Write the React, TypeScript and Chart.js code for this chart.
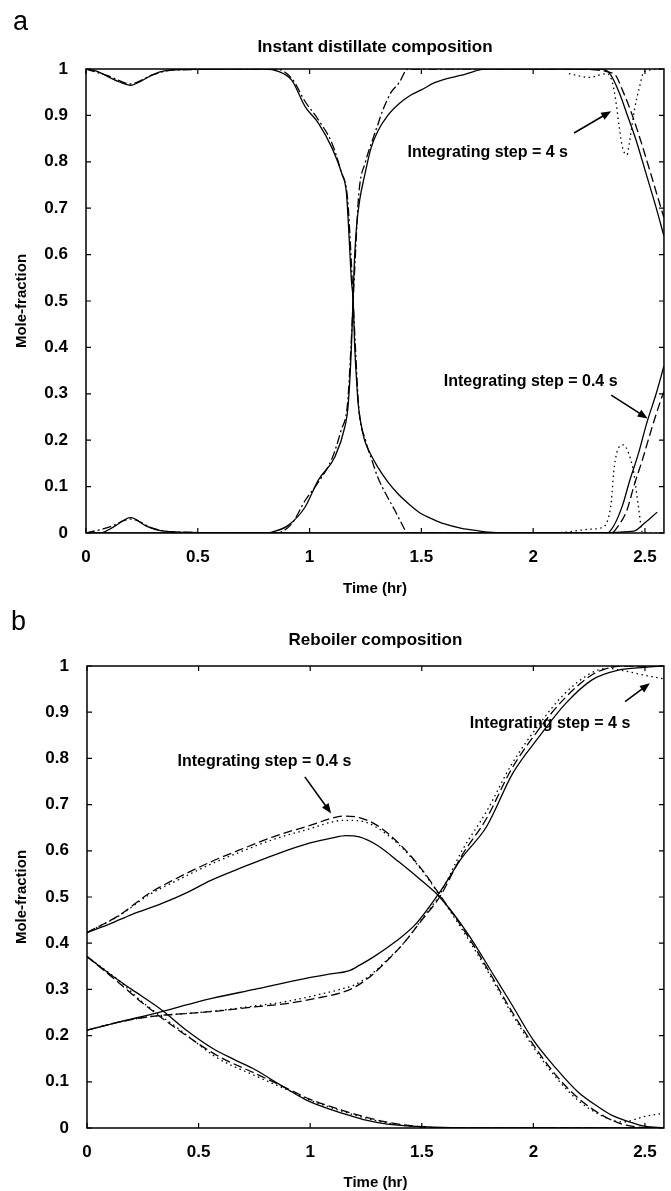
import React, { useEffect, useRef } from "react";
import { Chart, registerables } from "chart.js";

Chart.register(...registerables);

const FONT = "'Liberation Sans', Arial, Helvetica, sans-serif";

// ---------- shared ticks ----------
const xTicks = [0, 0.5, 1, 1.5, 2, 2.5];
const yTicks = [0, 0.1, 0.2, 0.3, 0.4, 0.5, 0.6, 0.7, 0.8, 0.9, 1];
const X_MAX = 2.585;

// ---------- panel a : Instant distillate composition ----------
const aC1SolidT = [0, 0.05, 0.1, 0.15, 0.2, 0.25, 0.3, 0.35, 0.45, 0.6, 0.8, 0.86, 0.92, 0.98, 1.04, 1.1, 1.143, 1.165, 1.175, 1.187, 1.195, 1.202, 1.21, 1.217, 1.23, 1.246, 1.275, 1.305, 1.35, 1.394, 1.45, 1.498, 1.55, 1.6, 1.68, 1.75, 1.8, 2.0, 2.2, 2.45, 2.5, 2.555];
const aC1SolidV = [1, 0.995, 0.983, 0.972, 0.965, 0.975, 0.988, 0.996, 0.999, 1, 1, 0.995, 0.976, 0.919, 0.883, 0.83, 0.776, 0.732, 0.653, 0.545, 0.5, 0.4, 0.33, 0.28, 0.235, 0.2, 0.168, 0.142, 0.11, 0.085, 0.06, 0.042, 0.03, 0.02, 0.01, 0.005, 0.002, 0, 0, 0.004, 0.022, 0.045];

const aC1DashDotT = [0, 0.1, 0.2, 0.3, 0.4, 0.85, 0.92, 0.98, 1.04, 1.1, 1.14, 1.17, 1.185, 1.195, 1.205, 1.22, 1.25, 1.28, 1.305, 1.34, 1.38, 1.41, 1.44, 1.6, 2.3];
const aC1DashDotV = [1, 0.985, 0.968, 0.988, 0.998, 1, 0.98, 0.93, 0.89, 0.84, 0.78, 0.72, 0.6, 0.5, 0.4, 0.27, 0.2, 0.155, 0.12, 0.085, 0.05, 0.022, 0, 0, 0];

const aC2SolidT = [0, 0.07, 0.12, 0.2, 0.27, 0.35, 0.5, 0.8, 0.832, 0.906, 0.98, 1.039, 1.113, 1.158, 1.172, 1.187, 1.194, 1.2, 1.21, 1.225, 1.246, 1.275, 1.305, 1.35, 1.4, 1.453, 1.5, 1.557, 1.62, 1.675, 1.73, 1.78, 2.0, 2.3, 2.343, 2.386, 2.423, 2.46, 2.504, 2.549, 2.585];
const aC2SolidV = [0, 0.001, 0.012, 0.033, 0.015, 0.004, 0.001, 0, 0.002, 0.017, 0.056, 0.114, 0.164, 0.229, 0.272, 0.4, 0.5, 0.58, 0.66, 0.72, 0.77, 0.83, 0.866, 0.9, 0.925, 0.944, 0.955, 0.97, 0.98, 0.986, 0.994, 1, 1, 1, 0.99, 0.948, 0.898, 0.847, 0.776, 0.703, 0.64];

const aC2DashDotT = [0, 0.1, 0.2, 0.3, 0.4, 0.85, 0.92, 0.98, 1.04, 1.1, 1.14, 1.17, 1.185, 1.195, 1.205, 1.22, 1.25, 1.28, 1.305, 1.328, 1.365, 1.4, 1.44, 1.6, 2.2];
const aC2DashDotV = [0, 0.012, 0.03, 0.01, 0.002, 0, 0.02, 0.07, 0.11, 0.16, 0.22, 0.28, 0.4, 0.5, 0.6, 0.73, 0.8, 0.845, 0.88, 0.912, 0.95, 0.97, 1, 1, 1];

const aC2DashedT = [2.2, 2.36, 2.405, 2.445, 2.48, 2.525, 2.57, 2.585];
const aC2DashedV = [1, 0.99, 0.948, 0.898, 0.847, 0.776, 0.703, 0.68];

const aC2DottedT = [2.16, 2.25, 2.33, 2.355, 2.37, 2.385, 2.4, 2.42, 2.43, 2.453, 2.475, 2.497, 2.585];
const aC2DottedV = [0.99, 0.982, 0.99, 0.97, 0.93, 0.875, 0.83, 0.815, 0.84, 0.912, 0.96, 0.995, 1];

const aC3SolidT = [0, 2.3, 2.33, 2.36, 2.4, 2.43, 2.47, 2.51, 2.55, 2.585];
const aC3SolidV = [0, 0, 0, 0.015, 0.06, 0.11, 0.17, 0.24, 0.3, 0.36];

const aC3DashedT = [2.3, 2.35, 2.38, 2.42, 2.45, 2.49, 2.53, 2.57, 2.585];
const aC3DashedV = [0, 0, 0.015, 0.05, 0.1, 0.16, 0.225, 0.285, 0.305];

const aC3DottedT = [2.1, 2.15, 2.25, 2.31, 2.335, 2.35, 2.36, 2.375, 2.39, 2.405, 2.42, 2.435, 2.45, 2.47, 2.49, 2.585];
const aC3DottedV = [0, 0.002, 0.008, 0.012, 0.03, 0.07, 0.13, 0.175, 0.188, 0.19, 0.18, 0.16, 0.13, 0.06, 0, 0];

const aNoteText = ["Integrating step = 4 s", "Integrating step = 0.4 s"];
const aNoteX = [1.797, 1.989];
const aNoteY = [0.819, 0.326];
const aArrowFromX = [2.183, 2.349];
const aArrowFromY = [0.862, 0.297];
const aArrowToX = [2.349, 2.512];
const aArrowToY = [0.909, 0.247];

// ---------- panel b : Reboiler composition ----------
const bC1SolidT = [0, 0.108, 0.2, 0.336, 0.45, 0.564, 0.66, 0.754, 0.86, 0.981, 1.08, 1.172, 1.25, 1.324, 1.42, 1.55, 1.8, 2.585];
const bC1SolidV = [0.371, 0.331, 0.3, 0.255, 0.21, 0.172, 0.148, 0.126, 0.095, 0.061, 0.042, 0.028, 0.017, 0.01, 0.005, 0.002, 0, 0];

const bC1DashedT = [0, 0.146, 0.25, 0.41, 0.583, 0.754, 0.9, 1.0, 1.1, 1.2, 1.32, 1.45, 1.6, 2.585];
const bC1DashedV = [0.371, 0.313, 0.27, 0.212, 0.157, 0.118, 0.085, 0.062, 0.045, 0.03, 0.015, 0.005, 0, 0];
const bC1DottedV = [0.371, 0.318, 0.272, 0.215, 0.152, 0.113, 0.082, 0.06, 0.043, 0.028, 0.013, 0.004, 0, 0];

const bC2SolidT = [0, 0.15, 0.336, 0.45, 0.564, 0.75, 0.981, 1.1, 1.172, 1.22, 1.286, 1.381, 1.476, 1.58, 1.68, 1.79, 1.908, 2.026, 2.145, 2.263, 2.381, 2.5, 2.585];
const bC2SolidV = [0.212, 0.23, 0.252, 0.267, 0.281, 0.3, 0.324, 0.334, 0.34, 0.352, 0.371, 0.403, 0.443, 0.51, 0.585, 0.652, 0.768, 0.847, 0.919, 0.97, 0.991, 0.997, 1];

const bC2DashedT = [0, 0.15, 0.279, 0.45, 0.564, 0.75, 0.906, 1.05, 1.134, 1.2, 1.267, 1.34, 1.419, 1.5, 1.58, 1.68, 1.79, 1.9, 2.02, 2.14, 2.26, 2.33, 2.4, 2.5, 2.585];
const bC2DashedV = [0.212, 0.23, 0.241, 0.248, 0.252, 0.262, 0.27, 0.283, 0.292, 0.305, 0.327, 0.36, 0.4, 0.45, 0.5, 0.59, 0.67, 0.775, 0.86, 0.93, 0.98, 0.995, 1, 1, 1];
const bC2DottedV = [0.212, 0.23, 0.241, 0.248, 0.253, 0.264, 0.275, 0.29, 0.3, 0.31, 0.33, 0.362, 0.4, 0.452, 0.505, 0.6, 0.685, 0.785, 0.87, 0.94, 0.985, 0.995, 0.99, 0.98, 0.972];

const bC3SolidT = [0, 0.108, 0.2, 0.336, 0.45, 0.55, 0.7, 0.85, 1.0, 1.1, 1.16, 1.22, 1.3, 1.4, 1.5, 1.58, 1.7, 1.827, 1.9, 2.0, 2.1, 2.2, 2.29, 2.35, 2.426, 2.5, 2.585];
const bC3SolidV = [0.423, 0.443, 0.462, 0.486, 0.51, 0.535, 0.565, 0.593, 0.617, 0.628, 0.633, 0.63, 0.612, 0.575, 0.535, 0.5, 0.425, 0.327, 0.27, 0.19, 0.13, 0.078, 0.046, 0.028, 0.014, 0.004, 0];

const bC3DashedT = [0, 0.146, 0.279, 0.4, 0.55, 0.7, 0.85, 1.0, 1.094, 1.15, 1.22, 1.3, 1.4, 1.5, 1.58, 1.7, 1.8, 1.9, 2.0, 2.1, 2.2, 2.3, 2.4, 2.5, 2.585];
const bC3DashedV = [0.423, 0.461, 0.508, 0.54, 0.575, 0.605, 0.633, 0.655, 0.67, 0.675, 0.672, 0.655, 0.615, 0.56, 0.505, 0.42, 0.34, 0.255, 0.18, 0.115, 0.065, 0.03, 0.008, 0.001, 0];
const bC3DottedV = [0.423, 0.46, 0.505, 0.535, 0.57, 0.6, 0.627, 0.648, 0.662, 0.666, 0.665, 0.65, 0.612, 0.558, 0.503, 0.415, 0.335, 0.25, 0.175, 0.11, 0.06, 0.028, 0.013, 0.025, 0.032];

const bNoteText = ["Integrating step = 0.4 s", "Integrating step = 4 s"];
const bNoteX = [0.795, 2.075];
const bNoteY = [0.793, 0.876];
const bArrowFromX = [0.976, 2.411];
const bArrowFromY = [0.76, 0.923];
const bArrowToX = [1.094, 2.522];
const bArrowToY = [0.681, 0.9625];

// ---------- styles ----------
const SOLID: number[] = [];
const DASHED = [9, 4];
const DOTTED = [1.5, 3.5];
const DASHDOT = [9, 3, 2, 3];

function series(t: number[], v: number[], dash: number[]) {
  return {
    data: t.map((x, i) => ({ x, y: v[i] })),
    borderColor: "#000",
    borderWidth: 1.3,
    borderDash: dash,
    pointRadius: 0,
    fill: false,
    cubicInterpolationMode: "monotone" as const,
  };
}

const framePlugin = {
  id: "frame",
  afterDraw(chart: any, _args: any, opts: any) {
    const { ctx, chartArea } = chart;
    const { left, right, top, bottom } = chartArea;
    const xs = chart.scales.x;
    const ys = chart.scales.y;
    ctx.save();
    ctx.strokeStyle = "#000";
    ctx.lineWidth = 1.5;
    ctx.setLineDash([]);
    ctx.strokeRect(left, top, right - left, bottom - top);
    ctx.lineWidth = 1.2;
    const L = 5;
    ctx.beginPath();
    xTicks.forEach((v) => {
      const px = xs.getPixelForValue(v);
      ctx.moveTo(px, bottom);
      ctx.lineTo(px, bottom - L);
      ctx.moveTo(px, top);
      ctx.lineTo(px, top + L);
    });
    yTicks.forEach((v) => {
      const py = ys.getPixelForValue(v);
      ctx.moveTo(left, py);
      ctx.lineTo(left + L, py);
      ctx.moveTo(right, py);
      ctx.lineTo(right - L, py);
    });
    ctx.stroke();

    const n = opts.text.length;
    ctx.fillStyle = "#000";
    ctx.font = `bold 16px ${FONT}`;
    ctx.textAlign = "center";
    ctx.textBaseline = "middle";
    for (let i = 0; i < n; i++) {
      ctx.fillText(opts.text[i], xs.getPixelForValue(opts.tx[i]), ys.getPixelForValue(opts.ty[i]));
      const x0 = xs.getPixelForValue(opts.fx[i]);
      const y0 = ys.getPixelForValue(opts.fy[i]);
      const x1 = xs.getPixelForValue(opts.ax[i]);
      const y1 = ys.getPixelForValue(opts.ay[i]);
      const ang = Math.atan2(y1 - y0, x1 - x0);
      const hl = 10;
      const hw = 4;
      ctx.lineWidth = 1.6;
      ctx.beginPath();
      ctx.moveTo(x0, y0);
      ctx.lineTo(x1 - hl * 0.7 * Math.cos(ang), y1 - hl * 0.7 * Math.sin(ang));
      ctx.stroke();
      ctx.beginPath();
      ctx.moveTo(x1, y1);
      ctx.lineTo(x1 - hl * Math.cos(ang) + hw * Math.sin(ang), y1 - hl * Math.sin(ang) - hw * Math.cos(ang));
      ctx.lineTo(x1 - hl * Math.cos(ang) - hw * Math.sin(ang), y1 - hl * Math.sin(ang) + hw * Math.cos(ang));
      ctx.closePath();
      ctx.fill();
    }
    ctx.restore();
  },
};

function makeConfig(p: {
  datasets: any[];
  title: string;
  titlePad: { top: number; bottom: number };
  yWidth: number;
  xHeight: number;
  rightPad: number;
  xTitleBottom: number;
  notes: any;
}) {
  return {
    type: "line" as const,
    data: { datasets: p.datasets },
    plugins: [framePlugin],
    options: {
      animation: false as const,
      responsive: false,
      devicePixelRatio: 1,
      layout: { padding: { left: 0, right: p.rightPad, top: 0, bottom: 0 } },
      plugins: {
        legend: { display: false },
        tooltip: { enabled: false },
        title: {
          display: true,
          fullSize: false,
          text: p.title,
          color: "#000",
          font: { family: FONT, size: 17, weight: "bold" as const, lineHeight: 1.2 },
          padding: p.titlePad,
        },
        frame: p.notes,
      },
      scales: {
        x: {
          type: "linear" as const,
          min: 0,
          max: X_MAX,
          afterBuildTicks: (s: any) => {
            s.ticks = xTicks.map((v) => ({ value: v }));
          },
          afterFit: (s: any) => {
            s.height = p.xHeight;
          },
          grid: { display: false, drawTicks: false },
          border: { display: false },
          ticks: {
            color: "#000",
            padding: 14,
            maxRotation: 0,
            font: { family: FONT, size: 17, weight: "bold" as const },
            callback: (v: any) => String(v),
          },
          title: {
            display: true,
            text: "Time (hr)",
            color: "#000",
            font: { family: FONT, size: 15, weight: "bold" as const, lineHeight: 1 },
            padding: { top: 0, bottom: p.xTitleBottom },
          },
        },
        y: {
          type: "linear" as const,
          min: 0,
          max: 1,
          afterBuildTicks: (s: any) => {
            s.ticks = yTicks.map((v) => ({ value: v }));
          },
          afterFit: (s: any) => {
            s.width = p.yWidth;
          },
          grid: { display: false, drawTicks: false },
          border: { display: false },
          ticks: {
            color: "#000",
            padding: 18,
            font: { family: FONT, size: 17, weight: "bold" as const },
            callback: (v: any) => String(v),
          },
          title: {
            display: true,
            text: "Mole-fraction",
            color: "#000",
            font: { family: FONT, size: 15, weight: "bold" as const, lineHeight: 1 },
            padding: { top: 14.5, bottom: 0 },
          },
        },
      },
    },
  };
}

function ChartCanvas({ width, height, config }: { width: number; height: number; config: () => any }) {
  const ref = useRef<HTMLCanvasElement | null>(null);
  useEffect(() => {
    if (!ref.current) return;
    const chart = new Chart(ref.current, config());
    return () => chart.destroy();
  }, []);
  return <canvas ref={ref} width={width} height={height} style={{ display: "block", width, height }} />;
}

const configA = () =>
  makeConfig({
    datasets: [
      series(aC1SolidT, aC1SolidV, SOLID),
      series(aC1DashDotT, aC1DashDotV, DASHDOT),
      series(aC2SolidT, aC2SolidV, SOLID),
      series(aC2DashDotT, aC2DashDotV, DASHDOT),
      series(aC2DashedT, aC2DashedV, DASHED),
      series(aC2DottedT, aC2DottedV, DOTTED),
      series(aC3SolidT, aC3SolidV, SOLID),
      series(aC3DashedT, aC3DashedV, DASHED),
      series(aC3DottedT, aC3DottedV, DOTTED),
    ],
    title: "Instant distillate composition",
    titlePad: { top: 36.8, bottom: 11.8 },
    yWidth: 86,
    xHeight: 67,
    rightPad: 3,
    xTitleBottom: 4,
    notes: { text: aNoteText, tx: aNoteX, ty: aNoteY, fx: aArrowFromX, fy: aArrowFromY, ax: aArrowToX, ay: aArrowToY },
  });

const configB = () =>
  makeConfig({
    datasets: [
      series(bC1SolidT, bC1SolidV, SOLID),
      series(bC1DashedT, bC1DashedV, DASHED),
      series(bC1DashedT, bC1DottedV, DOTTED),
      series(bC2SolidT, bC2SolidV, SOLID),
      series(bC2DashedT, bC2DashedV, DASHED),
      series(bC2DashedT, bC2DottedV, DOTTED),
      series(bC3SolidT, bC3SolidV, SOLID),
      series(bC3DashedT, bC3DashedV, DASHED),
      series(bC3DashedT, bC3DottedV, DOTTED),
    ],
    title: "Reboiler composition",
    titlePad: { top: 29.8, bottom: 15.8 },
    yWidth: 87,
    xHeight: 63,
    rightPad: 2,
    xTitleBottom: 1,
    notes: { text: bNoteText, tx: bNoteX, ty: bNoteY, fx: bArrowFromX, fy: bArrowFromY, ax: bArrowToX, ay: bArrowToY },
  });

export default function App() {
  const letter: React.CSSProperties = {
    position: "absolute",
    fontFamily: FONT,
    fontSize: 27,
    lineHeight: "27px",
    color: "#000",
  };
  return (
    <div style={{ position: "absolute", left: 0, top: 0, width: 671, height: 1191, background: "#fff", overflow: "hidden" }}>
      <div style={{ position: "absolute", left: 0, top: 0 }}>
        <ChartCanvas width={671} height={600} config={configA} />
      </div>
      <div style={{ position: "absolute", left: 0, top: 600 }}>
        <ChartCanvas width={671} height={591} config={configB} />
      </div>
      <div style={{ ...letter, left: 13, top: 8 }}>a</div>
      <div style={{ ...letter, left: 11, top: 608 }}>b</div>
    </div>
  );
}
